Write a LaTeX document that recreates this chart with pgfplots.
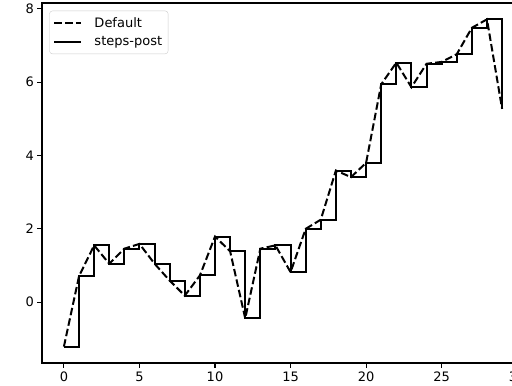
\documentclass[border=0pt]{standalone}
\usepackage{pgfplots}
\pgfplotsset{compat=1.18}
\usepackage{fontspec}
\setmainfont{DejaVu Sans}
\pgfplotstableread{
x y
0 -1.21
1 0.71
2 1.55
3 1.05
4 1.46
5 1.59
6 1.05
7 0.59
8 0.18
9 0.73
10 1.79
11 1.39
12 -0.44
13 1.46
14 1.55
15 0.82
16 2.00
17 2.25
18 3.59
19 3.41
20 3.80
21 5.94
22 6.53
23 5.86
24 6.50
25 6.55
26 6.76
27 7.48
28 7.71
29 5.27
}\datatable
\begin{document}
\begin{tikzpicture}
\path[use as bounding box, clip] (0,0) rectangle (512bp,386bp);
\begin{axis}[
  at={(42bp,23bp)}, anchor=south west,
  scale only axis, width=482bp, height=360bp,
  xmin=-1.45, xmax=30.45, ymin=-1.656, ymax=8.156,
  xtick={0,5,10,15,20,25,30},
  ytick={0,2,4,6,8},
  tick align=outside, xtick pos=bottom, ytick pos=left,
  major tick length=4.7bp,
  every tick/.style={black, line width=1.1bp},
  axis line style={line width=1.1bp},
  /pgf/number format/assume math mode=true,
  tick label style={font=\fontsize{13bp}{15bp}\selectfont},
  xticklabel style={yshift=-1bp},
  legend cell align=left,
  legend style={at={(axis description cs:0,1)}, anchor=north west,
    xshift=7.3bp, yshift=-7.7bp,
    draw=black!20, rounded corners=3bp, fill=white, fill opacity=0.8, text opacity=1,
    font=\fontsize{13bp}{15bp}\selectfont, row sep=4bp, inner xsep=4bp, inner ysep=4.5bp},
  legend image code/.code={\draw[#1] (0bp,0bp) -- (27bp,0bp); \path (37bp,0bp);},
]
\addplot[black, line width=2bp, dash pattern=on 7.5bp off 3.2bp] table[x=x,y=y] {\datatable};
\addlegendentry{Default}
\addplot[black, line width=2bp, const plot mark left] table[x=x,y=y] {\datatable};
\addlegendentry{steps-post}
\end{axis}
\end{tikzpicture}
\end{document}
